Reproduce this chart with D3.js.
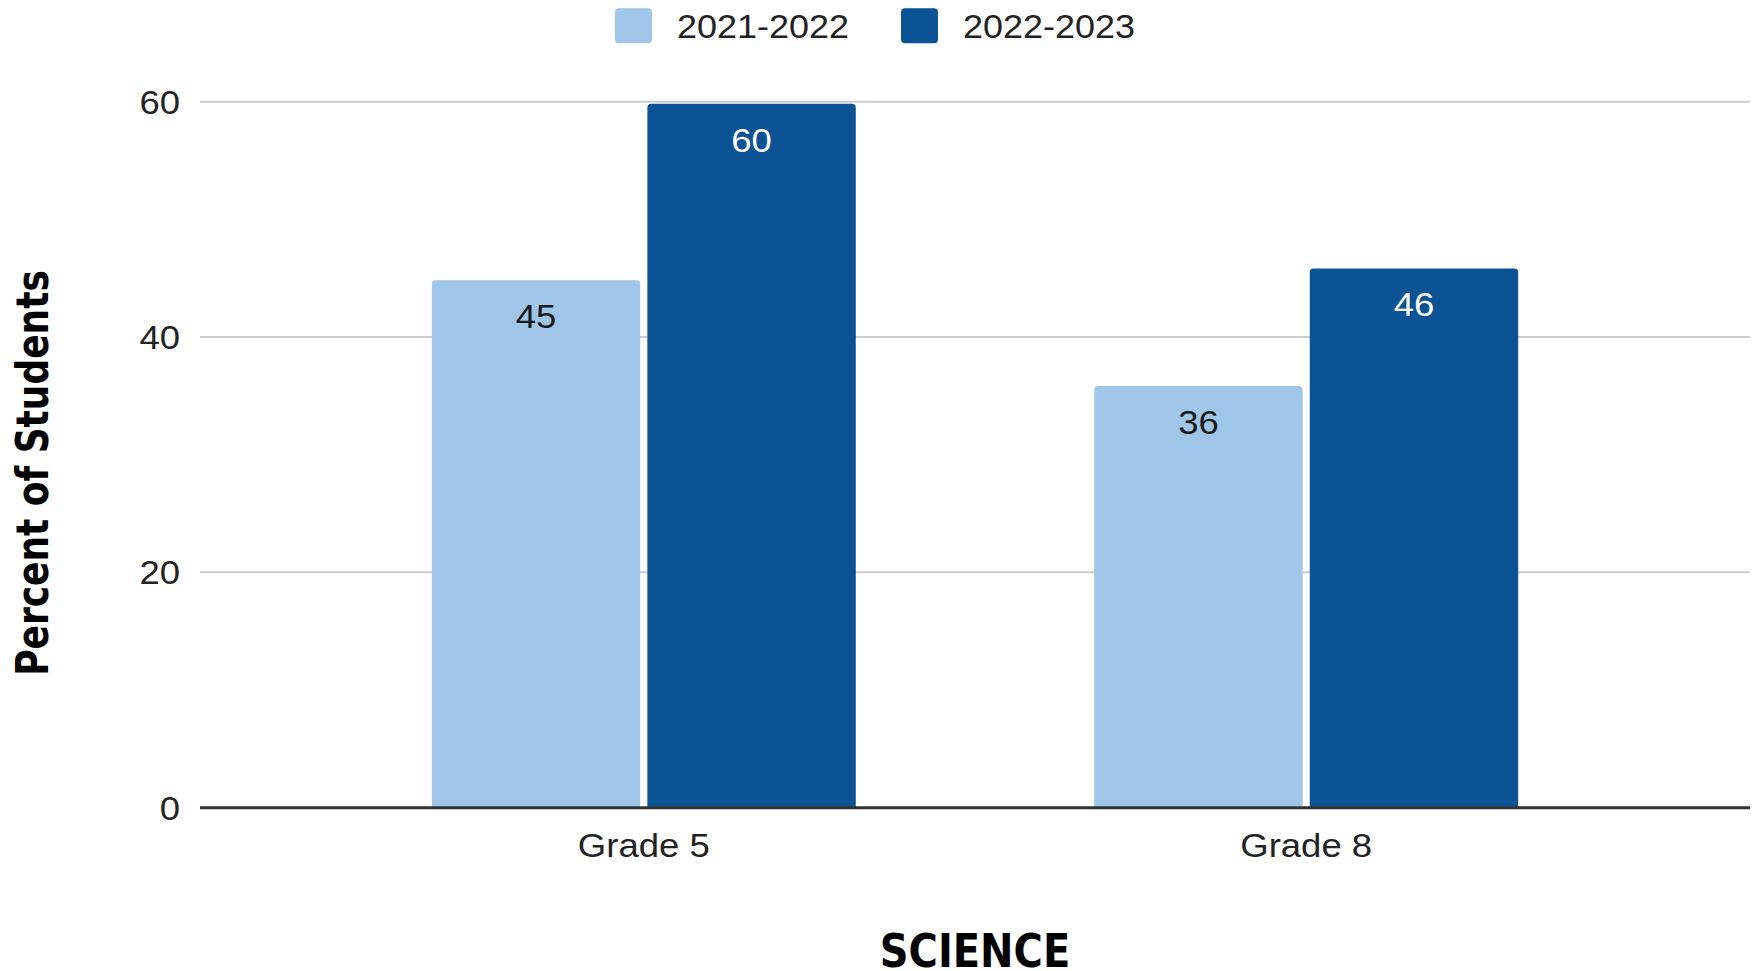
<!DOCTYPE html>
<html>
<head>
<meta charset="utf-8">
<script src="https://cdnjs.cloudflare.com/ajax/libs/d3/7.8.5/d3.min.js"></script>
<style>
  html, body { margin: 0; padding: 0; background: #fff; }
  svg { display: block; }
</style>
</head>
<body>
<div id="chart"></div>
<script>
var categories = ["Grade 5", "Grade 8"];
var seriesNames = ["2021-2022", "2022-2023"];
var values2122 = [45, 36];
var values2223 = [60, 46];
var yTicks = [0, 20, 40, 60];
var colors = ["#9fc5e8", "#0b5394"];
var labelColors = ["#1a1a1a", "#ffffff"];

var width = 1759;
var height = 971;
var sansFont = "'Liberation Sans', Arial, sans-serif";
var boldFont = "'DejaVu Sans', Verdana, sans-serif";
var stretch = 1.09; // the source picture is a little wider than normal text

var svg = d3.select("#chart").append("svg")
    .attr("width", width)
    .attr("height", height);

var x0 = d3.scaleBand()
    .domain(categories)
    .range([200, 1750])
    .paddingInner(0.36)
    .paddingOuter(0.35);

var x1 = d3.scaleBand()
    .domain(seriesNames)
    .range([0, x0.bandwidth()])
    .paddingInner(0.033);

var y = d3.scaleLinear()
    .domain([0, 60])
    .range([807.7, 101.7]);

function addText(parent, tx, ty, str, opts) {
    var g = parent.append("g")
        .attr("transform", "translate(" + tx + "," + ty + ")" + (opts.rotate ? " rotate(" + opts.rotate + ")" : "") +
            " scale(" + (opts.sx || 1) + "," + (opts.sy || 1) + ")");
    return g.append("text")
        .attr("text-anchor", opts.anchor || "middle")
        .style("font-family", opts.font || sansFont)
        .style("font-size", opts.size + "px")
        .style("font-weight", opts.weight || "normal")
        .style("fill", opts.fill || "#222")
        .text(str);
}

// gridlines
svg.append("g")
    .selectAll("line")
    .data(yTicks.filter(function (d) { return d > 0; }))
    .join("line")
    .attr("x1", 200)
    .attr("x2", 1750)
    .attr("y1", function (d) { return y(d); })
    .attr("y2", function (d) { return y(d); })
    .attr("stroke", "#cccccc")
    .attr("stroke-width", 2);

// y tick labels
yTicks.forEach(function (t) {
    addText(svg, 180, y(t) + 12, t, { anchor: "end", size: 33.5, sx: stretch });
});

// bars
var series = [values2122, values2223];
function barPath(bx, by, bw, bh, r) {
    return "M" + bx + "," + (by + bh) +
        "V" + (by + r) +
        "Q" + bx + "," + by + " " + (bx + r) + "," + by +
        "H" + (bx + bw - r) +
        "Q" + (bx + bw) + "," + by + " " + (bx + bw) + "," + (by + r) +
        "V" + (by + bh) + "Z";
}

categories.forEach(function (cat, i) {
    seriesNames.forEach(function (name, s) {
        var v = series[s][i];
        var bx = x0(cat) + x1(name);
        var bw = x1.bandwidth();
        var top = y(v) + 2;
        svg.append("path")
            .attr("d", barPath(bx, top, bw, y(0) - top, 4))
            .attr("fill", colors[s]);
        addText(svg, bx + bw / 2, y(v) + 50, v, { size: 33.5, sx: stretch, fill: labelColors[s] });
    });
});

// baseline
svg.append("line")
    .attr("x1", 200)
    .attr("x2", 1750)
    .attr("y1", y(0))
    .attr("y2", y(0))
    .attr("stroke", "#333333")
    .attr("stroke-width", 3);

// x category labels
categories.forEach(function (cat) {
    addText(svg, x0(cat) + x0.bandwidth() / 2, 857, cat, { size: 33.5, sx: stretch });
});

// legend
var legendX = [615, 901];
seriesNames.forEach(function (name, s) {
    svg.append("rect")
        .attr("x", legendX[s])
        .attr("y", 8.3)
        .attr("width", 37)
        .attr("height", 35)
        .attr("rx", 4)
        .attr("fill", colors[s]);
    addText(svg, legendX[s] + 62, 38.3, name, { anchor: "start", size: 33, sx: stretch });
});

// axis titles
addText(svg, 975, 967, "SCIENCE", { size: 40, sy: 1.16, font: boldFont, weight: "bold", fill: "#000" });
addText(svg, 48, 473, "Percent of Students", { size: 36, rotate: -90, sy: 1.25, font: boldFont, weight: "bold", fill: "#000" });
</script>
</body>
</html>
